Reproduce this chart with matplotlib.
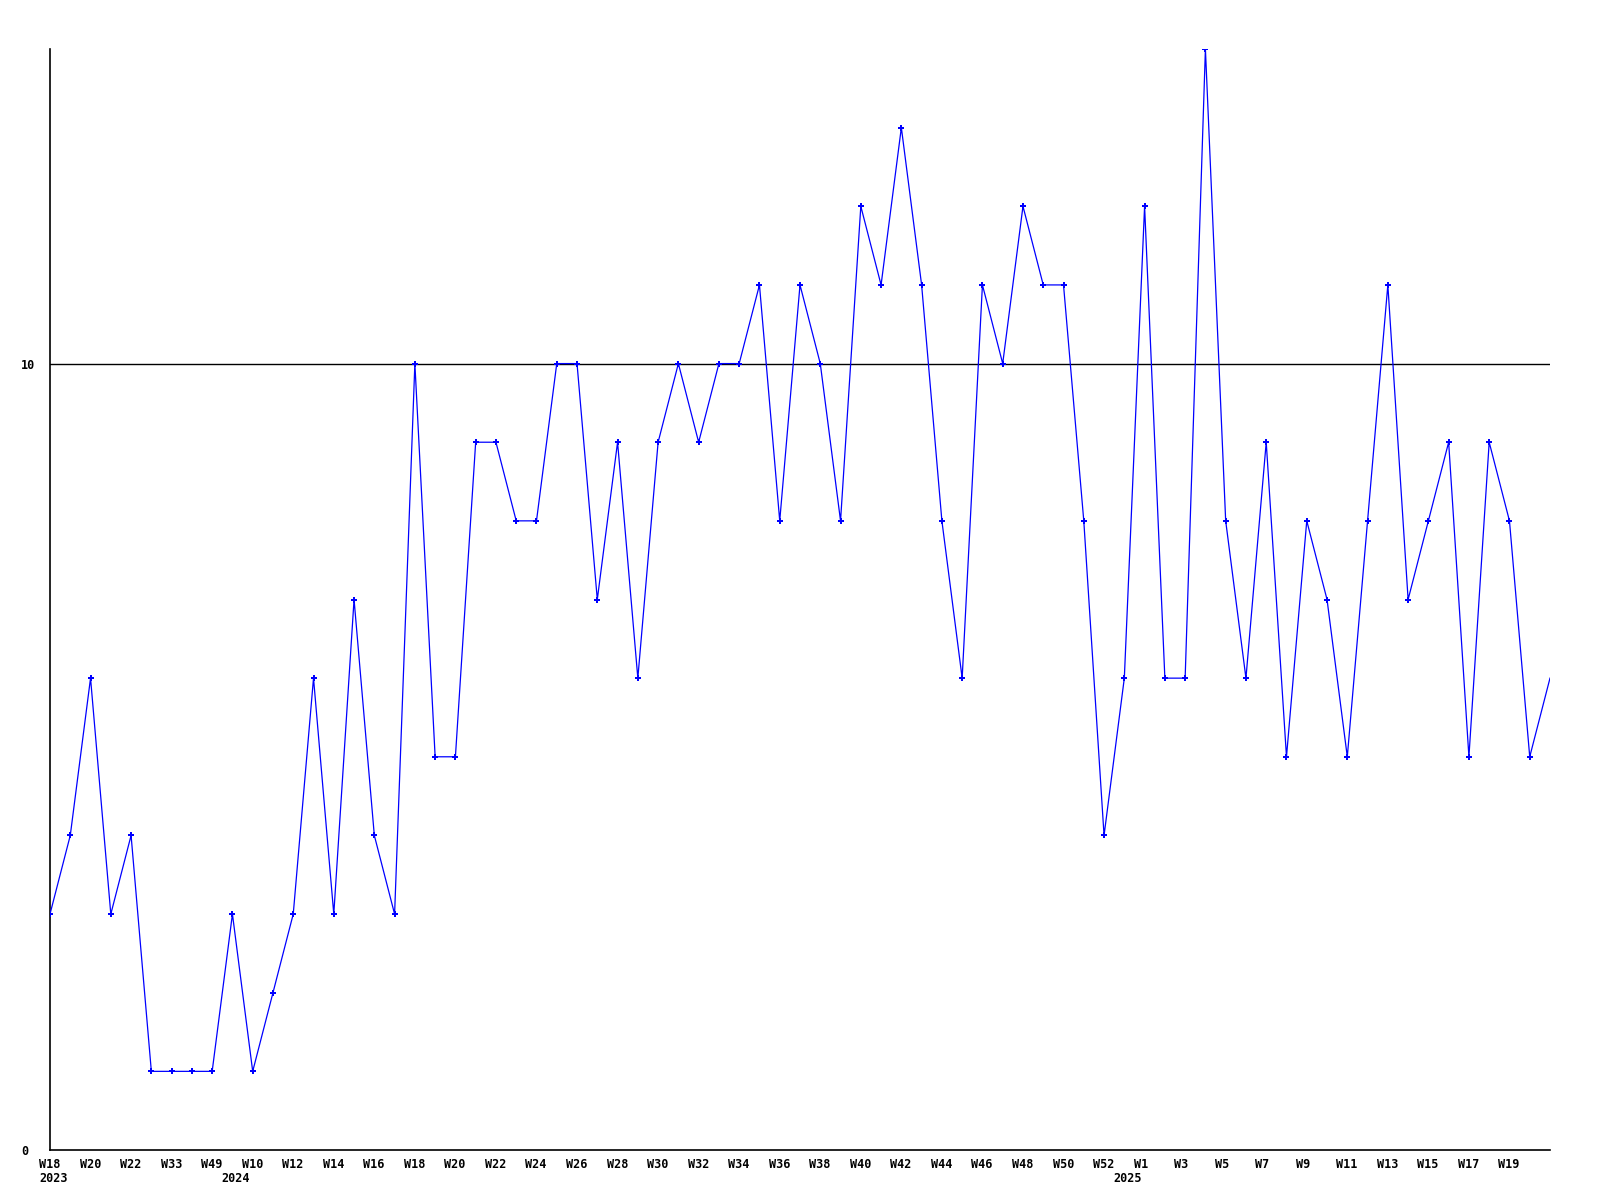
import matplotlib
matplotlib.use('Agg')
import matplotlib.pyplot as plt
import matplotlib.transforms as mtransforms

# weekly counts, one per point (75 points)
values = [3, 4, 6, 3, 4, 1, 1, 1, 1, 3,
          1, 2, 3, 6, 3, 7, 4, 3, 10, 5,
          5, 9, 9, 8, 8, 10, 10, 7, 9, 6,
          9, 10, 9, 10, 10, 11, 8, 11, 10, 8,
          12, 11, 13, 11, 8, 6, 11, 10, 12, 11,
          11, 8, 4, 6, 12, 6, 6, 14, 8, 6,
          9, 5, 8, 7, 5, 8, 11, 7, 8, 9,
          5, 9, 8, 5, 6]

# labels shown on every other point
week_labels = ['W18', 'W20', 'W22', 'W33', 'W49', 'W10', 'W12', 'W14', 'W16', 'W18',
               'W20', 'W22', 'W24', 'W26', 'W28', 'W30', 'W32', 'W34', 'W36', 'W38',
               'W40', 'W42', 'W44', 'W46', 'W48', 'W50', 'W52', 'W1', 'W3', 'W5',
               'W7', 'W9', 'W11', 'W13', 'W15', 'W17', 'W19']
# year marks: point index where each year starts
years = ['2023', '2024', '2025']
year_start = [0, 9, 53]

y_ticks = [0, 10]

fig = plt.figure(figsize=(16, 12), dpi=100)
ax = fig.add_axes([50 / 1600, 1 - 1150 / 1200, 1500 / 1600, 1101 / 1200])

x = list(range(len(values)))
ax.plot(x, values, color='#0000ff', lw=0.9, zorder=3)
ax.plot(x[:-1], values[:-1], ls='none', marker='P', ms=4, mew=0, color='#0000ff', zorder=4)
ax.axhline(10, color='black', lw=1, zorder=2)

ax.set_xlim(0, len(values) - 1)
ax.set_ylim(0, 14)

for s in ['top', 'right']:
    ax.spines[s].set_visible(False)
for s in ['left', 'bottom']:
    ax.spines[s].set_linewidth(1.2)

font = dict(family='DejaVu Sans Mono', weight='bold', size=8.5)

ax.set_yticks(y_ticks)
ax.set_yticklabels([str(v) for v in y_ticks], ha='left', **font)
ax.tick_params(axis='y', length=0, pad=21)

ticks = list(range(0, len(values), 2))[:len(week_labels)]
ax.set_xticks(ticks)
ax.set_xticklabels(week_labels, ha='left', va='top', **font)
ax.tick_params(axis='x', length=0, pad=6)
offset = mtransforms.ScaledTranslation(-11 / 100, 0, fig.dpi_scale_trans)
for lab in ax.get_xticklabels():
    lab.set_transform(lab.get_transform() + offset)

trans = mtransforms.blended_transform_factory(ax.transData, ax.transAxes)
for yr, i in zip(years, year_start):
    ax.text(i, 0, yr, ha='left', va='top', transform=trans + offset
            + mtransforms.ScaledTranslation(0, -22 / 100, fig.dpi_scale_trans), **font)

fig.savefig('out.png', dpi=100)
